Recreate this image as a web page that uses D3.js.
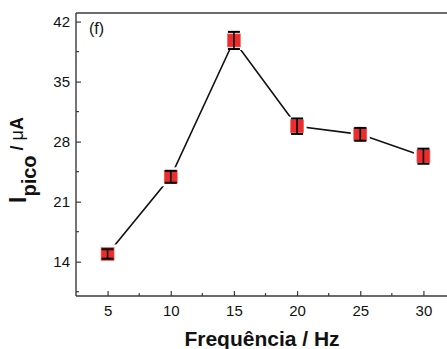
<!DOCTYPE html>
<html>
<head>
<meta charset="utf-8">
<script src="https://cdn.jsdelivr.net/npm/d3@7"></script>
<style>
  html, body { margin: 0; padding: 0; background: #fff; }
  svg { display: block; }
  text { font-family: Arial, "Liberation Sans", sans-serif; }
</style>
</head>
<body>
<svg id="chart" width="447" height="349"></svg>
<script>
// Peak current vs. square-wave frequency
const frequencies = [5, 10, 15, 20, 25, 30];          // Hz
const peakCurrent = [14.9, 23.9, 39.8, 29.8, 28.85, 26.3]; // µA
const errors      = [0.55, 0.7, 1.0, 0.9, 0.75, 0.88];  // µA
const xTicks = [5, 10, 15, 20, 25, 30];
const yTicks = [14, 21, 28, 35, 42];
const xMinor = [7.5, 12.5, 17.5, 22.5, 27.5, 32.5];
const yMinor = [10.5, 17.5, 24.5, 31.5, 38.5];

const svg = d3.select("#chart");
const plotL = 76, plotR = 455, plotT = 13, plotB = 296;

const x = d3.scaleLinear().domain([2.5, 32.5]).range([plotL, plotR]);
const y = d3.scaleLinear().domain([10, 43]).range([plotB, plotT]);

const axisColor = "#3a3a3a";

// frame (top and right edges)
svg.append("line").attr("x1", plotL).attr("x2", plotR).attr("y1", plotT).attr("y2", plotT)
  .attr("stroke", axisColor).attr("stroke-width", 1.4);
svg.append("line").attr("x1", plotR).attr("x2", plotR).attr("y1", plotT).attr("y2", plotB)
  .attr("stroke", axisColor).attr("stroke-width", 1.4);

// bottom axis, ticks pointing inward
const gx = svg.append("g").attr("transform", `translate(0,${plotB})`)
  .call(d3.axisBottom(x).tickValues(xTicks).tickSize(-5).tickPadding(9).tickSizeOuter(0));
gx.append("g").selectAll("line").data(xMinor).join("line")
  .attr("x1", d => x(d)).attr("x2", d => x(d)).attr("y1", 0).attr("y2", -3);

// left axis, ticks pointing inward
const gy = svg.append("g").attr("transform", `translate(${plotL},0)`)
  .call(d3.axisLeft(y).tickValues(yTicks).tickSize(-5).tickPadding(6).tickSizeOuter(0));
gy.append("g").selectAll("line").data(yMinor).join("line")
  .attr("x1", 0).attr("x2", 3).attr("y1", d => y(d)).attr("y2", d => y(d));

[gx, gy].forEach(g => {
  g.select(".domain").attr("stroke", axisColor).attr("stroke-width", 1.4);
  g.selectAll("line").attr("stroke", axisColor).attr("stroke-width", 1.2);
  g.selectAll(".tick text").attr("font-size", 15).attr("fill", "#111")
    .style("font-family", "Arial, 'Liberation Sans', sans-serif");
});
gx.select(".domain").attr("d", `M${plotL},0H${plotR}`);
gy.select(".domain").attr("d", `M0,${plotB}V${plotT}`);

const data = frequencies.map((f, i) => ({ f, v: peakCurrent[i], e: errors[i] }));

// connecting line
svg.append("path").datum(data)
  .attr("fill", "none").attr("stroke", "#111").attr("stroke-width", 1.6)
  .attr("d", d3.line().x(d => x(d.f)).y(d => y(d.v)));

// white gap around markers
const s = 13;
svg.append("g").selectAll("rect").data(data).join("rect")
  .attr("x", d => x(d.f) - s / 2 - 3).attr("y", d => y(d.v) - s / 2 - 3)
  .attr("width", s + 6).attr("height", s + 6).attr("fill", "#fff");

// square markers
svg.append("g").selectAll("rect").data(data).join("rect")
  .attr("x", d => x(d.f) - s / 2).attr("y", d => y(d.v) - s / 2)
  .attr("width", s).attr("height", s)
  .attr("fill", "#ec2d2d").attr("stroke", "#f06060").attr("stroke-width", 0.6);

// error bars
const eb = svg.append("g").attr("stroke", "#000").attr("stroke-width", 1.6);
data.forEach(d => {
  const cx = x(d.f), y1 = y(d.v + d.e), y2 = y(d.v - d.e);
  eb.append("line").attr("x1", cx).attr("x2", cx).attr("y1", y1).attr("y2", y2);
  eb.append("line").attr("x1", cx - 6).attr("x2", cx + 6).attr("y1", y1).attr("y2", y1).attr("stroke-width", 2);
  eb.append("line").attr("x1", cx - 6).attr("x2", cx + 6).attr("y1", y2).attr("y2", y2).attr("stroke-width", 2);
});

// panel tag
svg.append("text").attr("x", 89).attr("y", 34).attr("font-size", 16).attr("fill", "#111").text("(f)");

// axis titles
svg.append("text").attr("x", 262).attr("y", 346).attr("text-anchor", "middle")
  .attr("font-size", 21).attr("font-weight", "bold").attr("fill", "#111")
  .text("Frequência / Hz");

const yl = svg.append("text").attr("transform", "translate(26,160) rotate(-90)")
  .attr("text-anchor", "middle").attr("fill", "#111").attr("font-weight", "bold");
yl.append("tspan").attr("font-size", 23).text("I");
yl.append("tspan").attr("font-size", 20).attr("dy", 10).text("pico");
yl.append("tspan").attr("font-size", 18).attr("dy", -13).text(" / ");
yl.append("tspan").attr("font-size", 18).attr("font-weight", "normal").text("μ");
yl.append("tspan").attr("font-size", 18).text("A");
</script>
</body>
</html>
